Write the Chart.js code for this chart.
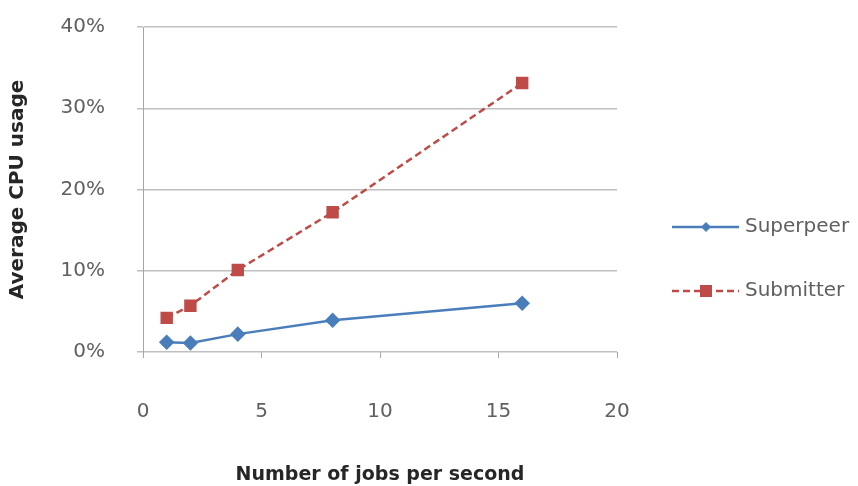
<!DOCTYPE html>
<html>
<head>
<meta charset="utf-8">
<script src="https://cdn.jsdelivr.net/npm/chart.js@4"></script>
<style>
  html, body { margin: 0; padding: 0; background: #fff; }
  #wrap { width: 858px; height: 486px; position: relative; }
</style>
</head>
<body>
<div id="wrap"><canvas id="cpuChart"></canvas></div>
<script>
// jobs per second on the x axis
const jobsPerSecond = [1, 2, 4, 8, 16];
// average CPU usage (%)
const superpeerCpu = [1.2, 1.1, 2.2, 3.9, 6.0];
const submitterCpu = [4.2, 5.7, 10.1, 17.2, 33.1];
const seriesNames = ['Superpeer', 'Submitter'];
const xTicks = [0, 5, 10, 15, 20];
const yTicks = [0, 10, 20, 30, 40];

const FONT = '"DejaVu Sans", Verdana, sans-serif';
const toPoints = (vals) => jobsPerSecond.map((x, i) => ({ x: x, y: vals[i] }));

// legend drawn on the right like the original (line + marker + text)
const sideLegend = {
  id: 'sideLegend',
  afterDraw(chart) {
    const c = chart.ctx;
    const rows = [227, 291];
    chart.data.datasets.forEach((ds, i) => {
      const y = rows[i];
      const mx = 706;
      c.save();
      c.strokeStyle = ds.borderColor;
      c.lineWidth = ds.borderWidth;
      c.setLineDash(ds.borderDash || []);
      c.beginPath();
      c.moveTo(672, y);
      c.lineTo(739, y);
      c.stroke();
      c.setLineDash([]);
      c.fillStyle = ds.pointBackgroundColor;
      if (ds.pointStyle === 'rect') {
        c.fillRect(mx - 6, y - 6, 12, 12);
      } else {
        c.beginPath();
        c.moveTo(mx, y - 5);
        c.lineTo(mx + 5, y);
        c.lineTo(mx, y + 5);
        c.lineTo(mx - 5, y);
        c.closePath();
        c.fill();
      }
      c.fillStyle = '#606060';
      c.font = '20px ' + FONT;
      c.textBaseline = 'middle';
      c.fillText(ds.label, 745, y);
      c.restore();
    });
  }
};

new Chart(document.getElementById('cpuChart'), {
  type: 'line',
  data: {
    datasets: [{
      label: seriesNames[0],
      data: toPoints(superpeerCpu),
      borderColor: '#4a7ebb',
      backgroundColor: '#4a7ebb',
      pointBackgroundColor: '#4a7ebb',
      pointBorderColor: '#4a7ebb',
      pointStyle: 'rectRot',
      pointRadius: 6,
      borderWidth: 2.5
    }, {
      label: seriesNames[1],
      data: toPoints(submitterCpu),
      borderColor: '#be4b48',
      backgroundColor: '#be4b48',
      pointBackgroundColor: '#be4b48',
      pointBorderColor: '#be4b48',
      pointStyle: 'rect',
      pointRadius: 7,
      borderWidth: 2.5,
      borderDash: [7, 4]
    }]
  },
  options: {
    responsive: true,
    maintainAspectRatio: false,
    animation: false,
    layout: { padding: { top: 27, right: 241, left: 0, bottom: 0 } },
    scales: {
      x: {
        type: 'linear',
        min: 0,
        max: 20,
        afterBuildTicks: (s) => { s.ticks = xTicks.map(v => ({ value: v })); },
        afterFit: (s) => { s.height = 134; s.paddingLeft = 0; s.paddingRight = 0; },
        border: { display: false },
        grid: {
          drawOnChartArea: false,
          drawTicks: true,
          tickLength: 6,
          color: '#a6a6a6'
        },
        ticks: {
          padding: 42,
          color: '#606060',
          font: { family: FONT, size: 20 }
        },
        title: {
          display: true,
          text: 'Number of jobs per second',
          color: '#262626',
          padding: { top: 0, bottom: 0 },
          font: { family: FONT, size: 19, weight: 'bold' }
        }
      },
      y: {
        min: 0,
        max: 40,
        afterBuildTicks: (s) => { s.ticks = yTicks.map(v => ({ value: v })); },
        afterFit: (s) => { s.width = 143; s.paddingTop = 0; s.paddingBottom = 0; },
        border: { display: true, color: '#a6a6a6', width: 1 },
        grid: {
          color: '#bfbfbf',
          lineWidth: 1.5,
          tickLength: 6
        },
        ticks: {
          padding: 32,
          color: '#606060',
          font: { family: FONT, size: 20 },
          callback: (v) => v + '%'
        },
        title: {
          display: true,
          text: 'Average CPU usage',
          color: '#262626',
          padding: { top: 6, bottom: 0 },
          font: { family: FONT, size: 20, weight: 'bold' }
        }
      }
    },
    plugins: {
      legend: { display: false },
      tooltip: { enabled: false }
    }
  },
  plugins: [sideLegend]
});
</script>
</body>
</html>
